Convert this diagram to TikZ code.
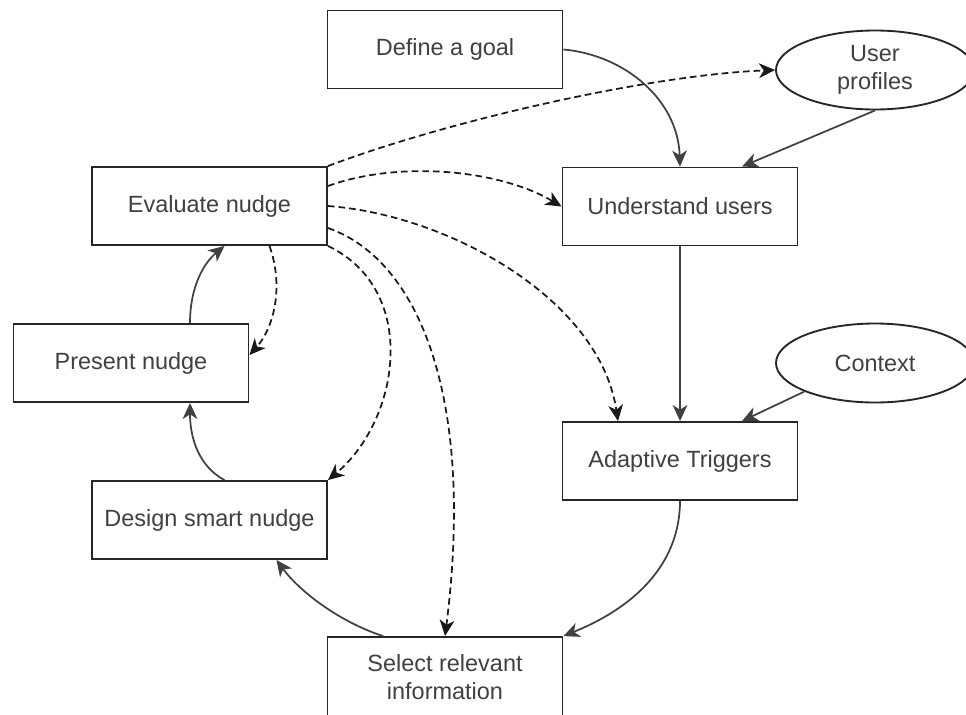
\documentclass[tikz,border=0pt]{standalone}
\usepackage{fontspec}
\setmainfont{Liberation Sans}
\usetikzlibrary{shapes.geometric,arrows.meta,calc}
\begin{document}
\begin{tikzpicture}[x=0.75pt,y=-0.75pt,
  box/.style={draw=black!85, line width=1.4pt, fill=white,
    minimum width=176.25pt, minimum height=58.5pt, inner sep=0pt,
    text=black!75, font=\fontsize{17.6}{21}\selectfont, align=center},
  oval/.style={box, ellipse, minimum width=148.5pt, minimum height=59.25pt},
  flow/.style={draw=black!75, line width=1.3pt,
    -{Stealth[length=12pt,width=11pt,inset=3.5pt]}},
  hint/.style={flow, draw=black!90, dash pattern=on 5pt off 3pt}]
\useasboundingbox (0,0) rectangle (966,714);

% process steps
\node[box] (goal)    at (445,49.5)  {Define a goal};
\node[box] (eval)    at (209.5,206) {Evaluate nudge};
\node[box] (under)   at (680,206.5) {Understand users};
\node[box] (present) at (131,363)   {Present nudge};
\node[box] (adapt)   at (680,461)   {Adaptive Triggers};
\node[box] (design)  at (209.5,520) {Design smart nudge};
\node[box, minimum height=60pt] (select) at (445,677) {Select relevant\\information};

% data sources
\node[oval] (prof) at (875,70)  {User\\profiles};
\node[oval] (ctx)  at (875,363) {Context};

% main flow
\draw[flow] (goal.east) .. controls (625,55) and (678,100) .. (under.north);
\draw[flow] (prof.south) -- ($(under.north)+(62,0)$);
\draw[flow] (under.south) -- (adapt.north);
\draw[flow] (ctx.south west) -- ($(adapt.north)+(62,0)$);
\draw[flow] (adapt.south) .. controls (680,560) and (640,605) .. (select.north east);
\draw[flow] ($(select.north)+(-62,0)$) .. controls (340,622) and (300,592) .. ($(design.south)+(67,0)$);
\draw[flow] ($(design.north)+(15,0)$) .. controls (200,467) and (190,440) .. ($(present.south)+(59,0)$);
\draw[flow] ($(present.north)+(59,0)$) .. controls (190,285) and (205,262) .. ($(eval.south)+(15,0)$);

% evaluation feedback
\draw[hint] (eval.north east) .. controls (450,120) and (650,75) .. (prof.west);
\draw[hint] ($(eval.east)+(0,-20)$) .. controls (400,160) and (500,170) .. (under.west);
\draw[hint] (eval.east) .. controls (450,215) and (600,300) .. ($(adapt.north)+(-62,0)$);
\draw[hint] ($(eval.east)+(0,22)$) .. controls (420,260) and (475,400) .. (select.north);
\draw[hint] (eval.south east) .. controls (420,290) and (400,420) .. (design.north east);
\draw[hint] ($(eval.south)+(60,0)$) .. controls (285,290) and (272,330) .. ($(present.east)+(0,-8)$);
\end{tikzpicture}
\end{document}
